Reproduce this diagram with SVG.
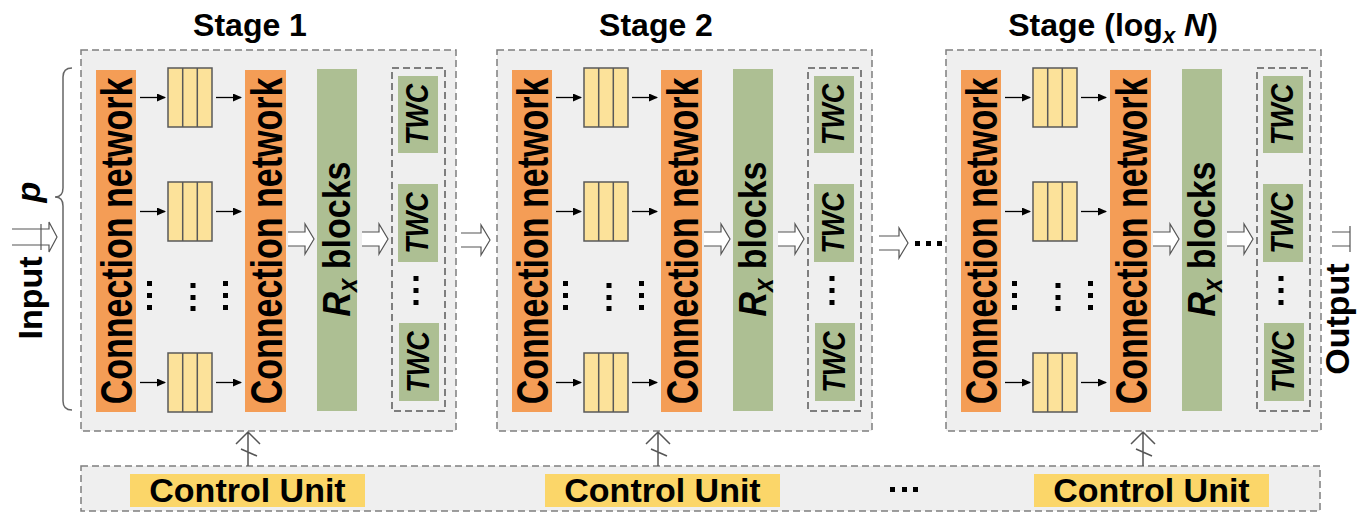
<svg xmlns="http://www.w3.org/2000/svg" width="1357" height="513" viewBox="0 0 1357 513">
  <style>
    text { font-family: "Liberation Sans", Arial, sans-serif; font-weight: bold; fill: #000; }
    .title { font-size: 32px; }
    .stage-box { fill: #EFEFEF; stroke: #7F7F7F; stroke-width: 1.5; stroke-dasharray: 7 4; }
    .twc-group { fill: #EFEFEF; stroke: #595959; stroke-width: 1.5; stroke-dasharray: 7 4; }
    .conn { fill: #F49D56; }
    .rblk { fill: #ADBF93; }
    .twc { fill: #ADBF93; }
    .queue { fill: #FCE29A; stroke: #595959; stroke-width: 1.5; }
    .qdiv { stroke: #595959; stroke-width: 1.5; }
    .dot { fill: #000; }
    .lbl { font-size: 34px; }
    .twc-lbl { font-size: 27px; font-style: italic; }
    .cu { fill: #FBD669; }
    .bus { stroke: #555; stroke-width: 1.5; fill: none; }
    .small-arrow { stroke: #000; stroke-width: 1.3; fill: none; marker-end: url(#tri); }
    .wide-fill { fill: #fff; stroke: none; }
    .wide-line { fill: none; stroke: #555; stroke-width: 1.2; }
  </style>
  <defs>
    <marker id="tri" markerUnits="userSpaceOnUse" markerWidth="9" markerHeight="8" refX="8" refY="4" orient="auto">
      <path d="M0,0 L9,4 L0,8 Z" fill="#000"/>
    </marker>
  </defs>

  <rect width="1357" height="513" fill="#fff"/>

  <!-- input side -->
  <g id="input">
    <text class="lbl" transform="translate(42,298) rotate(-90)" text-anchor="middle">Input</text>
    <text class="lbl" font-style="italic" transform="translate(40,192) rotate(-90)" text-anchor="middle">p</text>
    <path d="M72,68 Q63,68 63,77 V188 Q63,197 55,197 Q63,197 63,206 V401 Q63,410 72,410" fill="none" stroke="#666" stroke-width="1.5"/>
  </g>

  <!-- output side -->
  <g id="output">
    <text class="lbl" font-size="33" transform="translate(1349,319) rotate(-90)" text-anchor="middle">Output</text>
  </g>

  <!-- Stage 1 -->
  <g id="stage-1">
    <text class="title" x="250" y="36" text-anchor="middle">Stage 1</text>
    <rect class="stage-box" x="81" y="50" width="375" height="381"/>
    <rect class="conn" x="96" y="70" width="40" height="342"/>
    <text class="lbl" transform="translate(132,241) scale(1.3,1) rotate(-90)" text-anchor="middle">Connection network</text>
    <g id="s1-queues">
      <rect class="queue" x="168" y="68" width="44" height="59"/>
      <line class="qdiv" x1="182.7" y1="68" x2="182.7" y2="127"/>
      <line class="qdiv" x1="197.3" y1="68" x2="197.3" y2="127"/>
      <rect class="queue" x="168" y="182" width="44" height="59"/>
      <line class="qdiv" x1="182.7" y1="182" x2="182.7" y2="241"/>
      <line class="qdiv" x1="197.3" y1="182" x2="197.3" y2="241"/>
      <rect class="queue" x="168" y="353" width="44" height="59"/>
      <line class="qdiv" x1="182.7" y1="353" x2="182.7" y2="412"/>
      <line class="qdiv" x1="197.3" y1="353" x2="197.3" y2="412"/>
    </g>
    <g id="s1-dots">
      <rect class="dot" x="147" y="281" width="5" height="5"/>
      <rect class="dot" x="147" y="293" width="5" height="5"/>
      <rect class="dot" x="147" y="305" width="5" height="5"/>
      <rect class="dot" x="190.5" y="283" width="5" height="5"/>
      <rect class="dot" x="190.5" y="295" width="5" height="5"/>
      <rect class="dot" x="190.5" y="306" width="5" height="5"/>
      <rect class="dot" x="223" y="281" width="5" height="5"/>
      <rect class="dot" x="223" y="293" width="5" height="5"/>
      <rect class="dot" x="223" y="305" width="5" height="5"/>
    </g>
    <rect class="conn" x="245" y="70" width="41" height="342"/>
    <text class="lbl" transform="translate(281.5,241) scale(1.3,1) rotate(-90)" text-anchor="middle">Connection network</text>
    <rect class="rblk" x="317" y="69" width="40" height="342"/>
    <text class="lbl" transform="translate(350,239) scale(1.15,1) rotate(-90)" text-anchor="middle"><tspan font-style="italic">R</tspan><tspan font-style="italic" font-size="24" dy="6">x</tspan><tspan dy="-6"> blocks</tspan></text>
    <rect class="twc-group" x="392" y="68" width="53" height="343"/>
    <rect class="twc" x="398" y="76" width="40" height="77"/>
    <text class="twc-lbl" transform="translate(428,114.5) scale(1.15,1) rotate(-90)" text-anchor="middle">TWC</text>
    <rect class="twc" x="398" y="184" width="40" height="78"/>
    <text class="twc-lbl" transform="translate(428,223) scale(1.15,1) rotate(-90)" text-anchor="middle">TWC</text>
    <rect class="twc" x="399" y="323" width="40" height="78"/>
    <text class="twc-lbl" transform="translate(429,362) scale(1.15,1) rotate(-90)" text-anchor="middle">TWC</text>
    <rect class="dot" x="413.5" y="276" width="5" height="5"/>
    <rect class="dot" x="413.5" y="288" width="5" height="5"/>
    <rect class="dot" x="413.5" y="300" width="5" height="5"/>
  </g>

  <!-- Stage 2 (same layout, shifted) -->
  <g id="stage-2">
    <text class="title" x="656" y="36" text-anchor="middle">Stage 2</text>
    <g transform="translate(416,0)">
      <rect class="stage-box" x="81" y="50" width="375" height="381"/>
      <rect class="conn" x="96" y="70" width="40" height="342"/>
      <text class="lbl" transform="translate(132,241) scale(1.3,1) rotate(-90)" text-anchor="middle">Connection network</text>
      <rect class="queue" x="168" y="68" width="44" height="59"/>
      <line class="qdiv" x1="182.7" y1="68" x2="182.7" y2="127"/>
      <line class="qdiv" x1="197.3" y1="68" x2="197.3" y2="127"/>
      <rect class="queue" x="168" y="182" width="44" height="59"/>
      <line class="qdiv" x1="182.7" y1="182" x2="182.7" y2="241"/>
      <line class="qdiv" x1="197.3" y1="182" x2="197.3" y2="241"/>
      <rect class="queue" x="168" y="353" width="44" height="59"/>
      <line class="qdiv" x1="182.7" y1="353" x2="182.7" y2="412"/>
      <line class="qdiv" x1="197.3" y1="353" x2="197.3" y2="412"/>
      <rect class="dot" x="147" y="281" width="5" height="5"/>
      <rect class="dot" x="147" y="293" width="5" height="5"/>
      <rect class="dot" x="147" y="305" width="5" height="5"/>
      <rect class="dot" x="190.5" y="283" width="5" height="5"/>
      <rect class="dot" x="190.5" y="295" width="5" height="5"/>
      <rect class="dot" x="190.5" y="306" width="5" height="5"/>
      <rect class="dot" x="223" y="281" width="5" height="5"/>
      <rect class="dot" x="223" y="293" width="5" height="5"/>
      <rect class="dot" x="223" y="305" width="5" height="5"/>
      <rect class="conn" x="245" y="70" width="41" height="342"/>
      <text class="lbl" transform="translate(281.5,241) scale(1.3,1) rotate(-90)" text-anchor="middle">Connection network</text>
      <rect class="rblk" x="317" y="69" width="40" height="342"/>
      <text class="lbl" transform="translate(350,239) scale(1.15,1) rotate(-90)" text-anchor="middle"><tspan font-style="italic">R</tspan><tspan font-style="italic" font-size="24" dy="6">x</tspan><tspan dy="-6"> blocks</tspan></text>
      <rect class="twc-group" x="392" y="68" width="53" height="343"/>
      <rect class="twc" x="398" y="76" width="40" height="77"/>
      <text class="twc-lbl" transform="translate(428,114.5) scale(1.15,1) rotate(-90)" text-anchor="middle">TWC</text>
      <rect class="twc" x="398" y="184" width="40" height="78"/>
      <text class="twc-lbl" transform="translate(428,223) scale(1.15,1) rotate(-90)" text-anchor="middle">TWC</text>
      <rect class="twc" x="399" y="323" width="40" height="78"/>
      <text class="twc-lbl" transform="translate(429,362) scale(1.15,1) rotate(-90)" text-anchor="middle">TWC</text>
      <rect class="dot" x="413.5" y="276" width="5" height="5"/>
      <rect class="dot" x="413.5" y="288" width="5" height="5"/>
      <rect class="dot" x="413.5" y="300" width="5" height="5"/>
    </g>
  </g>

  <!-- Final stage -->
  <g id="stage-n">
    <text class="title" x="1113" y="36" text-anchor="middle">Stage (log<tspan font-style="italic" font-size="22" dy="7">x</tspan><tspan dy="-7"> </tspan><tspan font-style="italic">N</tspan>)</text>
    <g transform="translate(865,0)">
      <rect class="stage-box" x="81" y="50" width="375" height="381"/>
      <rect class="conn" x="96" y="70" width="40" height="342"/>
      <text class="lbl" transform="translate(132,241) scale(1.3,1) rotate(-90)" text-anchor="middle">Connection network</text>
      <rect class="queue" x="168" y="68" width="44" height="59"/>
      <line class="qdiv" x1="182.7" y1="68" x2="182.7" y2="127"/>
      <line class="qdiv" x1="197.3" y1="68" x2="197.3" y2="127"/>
      <rect class="queue" x="168" y="182" width="44" height="59"/>
      <line class="qdiv" x1="182.7" y1="182" x2="182.7" y2="241"/>
      <line class="qdiv" x1="197.3" y1="182" x2="197.3" y2="241"/>
      <rect class="queue" x="168" y="353" width="44" height="59"/>
      <line class="qdiv" x1="182.7" y1="353" x2="182.7" y2="412"/>
      <line class="qdiv" x1="197.3" y1="353" x2="197.3" y2="412"/>
      <rect class="dot" x="147" y="281" width="5" height="5"/>
      <rect class="dot" x="147" y="293" width="5" height="5"/>
      <rect class="dot" x="147" y="305" width="5" height="5"/>
      <rect class="dot" x="190.5" y="283" width="5" height="5"/>
      <rect class="dot" x="190.5" y="295" width="5" height="5"/>
      <rect class="dot" x="190.5" y="306" width="5" height="5"/>
      <rect class="dot" x="223" y="281" width="5" height="5"/>
      <rect class="dot" x="223" y="293" width="5" height="5"/>
      <rect class="dot" x="223" y="305" width="5" height="5"/>
      <rect class="conn" x="245" y="70" width="41" height="342"/>
      <text class="lbl" transform="translate(281.5,241) scale(1.3,1) rotate(-90)" text-anchor="middle">Connection network</text>
      <rect class="rblk" x="317" y="69" width="40" height="342"/>
      <text class="lbl" transform="translate(350,239) scale(1.15,1) rotate(-90)" text-anchor="middle"><tspan font-style="italic">R</tspan><tspan font-style="italic" font-size="24" dy="6">x</tspan><tspan dy="-6"> blocks</tspan></text>
      <rect class="twc-group" x="392" y="68" width="53" height="343"/>
      <rect class="twc" x="398" y="76" width="40" height="77"/>
      <text class="twc-lbl" transform="translate(428,114.5) scale(1.15,1) rotate(-90)" text-anchor="middle">TWC</text>
      <rect class="twc" x="398" y="184" width="40" height="78"/>
      <text class="twc-lbl" transform="translate(428,223) scale(1.15,1) rotate(-90)" text-anchor="middle">TWC</text>
      <rect class="twc" x="399" y="323" width="40" height="78"/>
      <text class="twc-lbl" transform="translate(429,362) scale(1.15,1) rotate(-90)" text-anchor="middle">TWC</text>
      <rect class="dot" x="413.5" y="276" width="5" height="5"/>
      <rect class="dot" x="413.5" y="288" width="5" height="5"/>
      <rect class="dot" x="413.5" y="300" width="5" height="5"/>
    </g>
  </g>

  <!-- ellipsis between stage 2 and the final stage -->
  <g id="stage-ellipsis">
    <rect class="dot" x="915" y="241" width="5" height="5"/>
    <rect class="dot" x="926" y="241" width="5" height="5"/>
    <rect class="dot" x="937" y="241" width="5" height="5"/>
  </g>

  <!-- control bar -->
  <g id="control">
    <rect class="stage-box" x="81" y="466" width="1239" height="45"/>
    <rect class="cu" x="130" y="474" width="235" height="33"/>
    <text x="247.5" y="502" font-size="34" text-anchor="middle">Control Unit</text>
    <rect class="cu" x="545" y="474" width="235" height="33"/>
    <text x="662.5" y="502" font-size="34" text-anchor="middle">Control Unit</text>
    <rect class="cu" x="1034" y="474" width="235" height="33"/>
    <text x="1151.5" y="502" font-size="34" text-anchor="middle">Control Unit</text>
    <rect class="dot" x="890" y="487" width="5" height="5"/>
    <rect class="dot" x="902" y="487" width="5" height="5"/>
    <rect class="dot" x="913" y="487" width="5" height="5"/>
  </g>

  <!-- connectors -->
  <g id="connectors">
    <!-- queue feed arrows -->
    <line class="small-arrow" x1="140" y1="97.5" x2="165" y2="97.5"/>
    <line class="small-arrow" x1="216" y1="97.5" x2="241" y2="97.5"/>
    <line class="small-arrow" x1="140" y1="211.5" x2="165" y2="211.5"/>
    <line class="small-arrow" x1="216" y1="211.5" x2="241" y2="211.5"/>
    <line class="small-arrow" x1="140" y1="382.5" x2="165" y2="382.5"/>
    <line class="small-arrow" x1="216" y1="382.5" x2="241" y2="382.5"/>
    <line class="small-arrow" x1="556" y1="97.5" x2="581" y2="97.5"/>
    <line class="small-arrow" x1="632" y1="97.5" x2="657" y2="97.5"/>
    <line class="small-arrow" x1="556" y1="211.5" x2="581" y2="211.5"/>
    <line class="small-arrow" x1="632" y1="211.5" x2="657" y2="211.5"/>
    <line class="small-arrow" x1="556" y1="382.5" x2="581" y2="382.5"/>
    <line class="small-arrow" x1="632" y1="382.5" x2="657" y2="382.5"/>
    <line class="small-arrow" x1="1005" y1="97.5" x2="1030" y2="97.5"/>
    <line class="small-arrow" x1="1081" y1="97.5" x2="1106" y2="97.5"/>
    <line class="small-arrow" x1="1005" y1="211.5" x2="1030" y2="211.5"/>
    <line class="small-arrow" x1="1081" y1="211.5" x2="1106" y2="211.5"/>
    <line class="small-arrow" x1="1005" y1="382.5" x2="1030" y2="382.5"/>
    <line class="small-arrow" x1="1081" y1="382.5" x2="1106" y2="382.5"/>

    <!-- wide data-path arrows -->
    <path class="wide-fill" d="M12,229 H49 V222 L57,237 L49,252 V245 H12 Z"/>
    <path class="wide-line" d="M12,229 H49 V222 L57,237 L49,252 V245 H12"/>
    <line class="wide-line" x1="41" y1="224" x2="41" y2="250"/>

    <path class="wide-fill" d="M288,232 H305 V224 L314,239 L305,254 V246 H288 Z"/>
    <path class="wide-line" d="M288,232 H305 V224 L314,239 L305,254 V246 H288"/>
    <path class="wide-fill" d="M362,232 H379 V224 L388,239 L379,254 V246 H362 Z"/>
    <path class="wide-line" d="M362,232 H379 V224 L388,239 L379,254 V246 H362"/>

    <path class="wide-fill" d="M461,233 H481 V225 L490,240 L481,255 V247 H461 Z"/>
    <path class="wide-line" d="M461,233 H481 V225 L490,240 L481,255 V247 H461"/>

    <path class="wide-fill" d="M704,232 H721 V224 L730,239 L721,254 V246 H704 Z"/>
    <path class="wide-line" d="M704,232 H721 V224 L730,239 L721,254 V246 H704"/>
    <path class="wide-fill" d="M778,232 H795 V224 L804,239 L795,254 V246 H778 Z"/>
    <path class="wide-line" d="M778,232 H795 V224 L804,239 L795,254 V246 H778"/>

    <path class="wide-fill" d="M879,236 H899 V228 L908,243 L899,258 V250 H879 Z"/>
    <path class="wide-line" d="M879,236 H899 V228 L908,243 L899,258 V250 H879"/>

    <path class="wide-fill" d="M1153,232 H1170 V224 L1179,239 L1170,254 V246 H1153 Z"/>
    <path class="wide-line" d="M1153,232 H1170 V224 L1179,239 L1170,254 V246 H1153"/>
    <path class="wide-fill" d="M1227,232 H1244 V224 L1253,239 L1244,254 V246 H1227 Z"/>
    <path class="wide-line" d="M1227,232 H1244 V224 L1253,239 L1244,254 V246 H1227"/>

    <path class="wide-line" d="M1332,232 H1350 M1332,246 H1350 M1350,226 V252"/>

    <!-- control buses -->
    <path class="bus" d="M248,466 V432 M236,444 L248,432 L260,444 M241,449 L257,456"/>
    <path class="bus" d="M658,466 V432 M646,444 L658,432 L670,444 M651,449 L667,456"/>
    <path class="bus" d="M1143,466 V432 M1131,444 L1143,432 L1155,444 M1136,449 L1152,456"/>
  </g>
</svg>
